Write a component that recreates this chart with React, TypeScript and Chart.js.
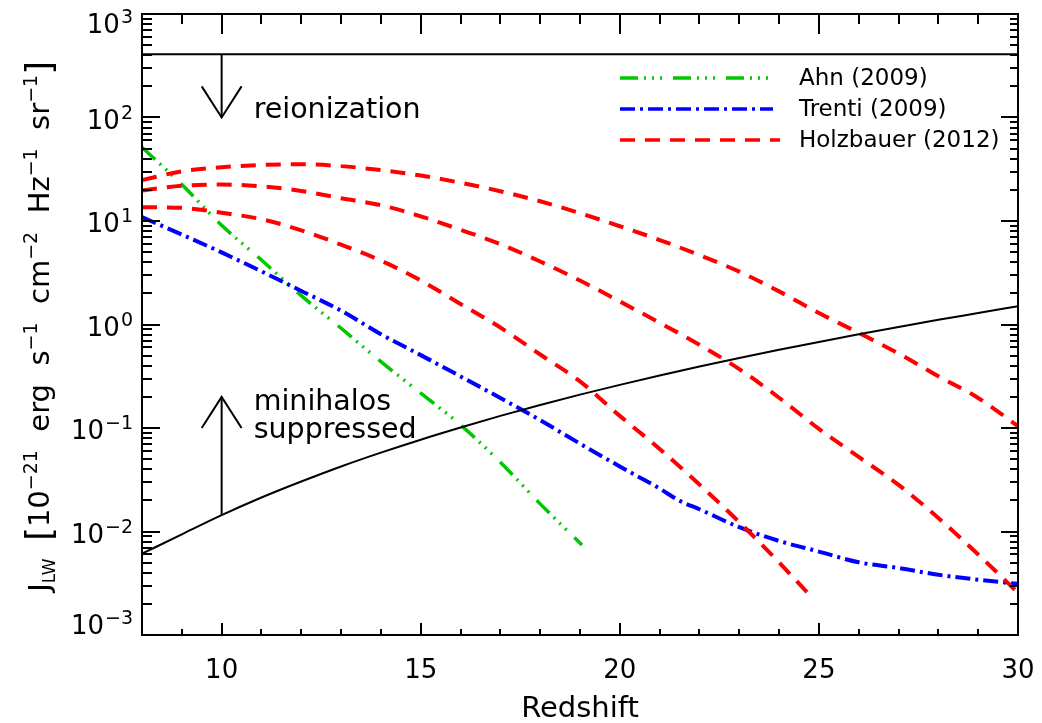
import { useEffect, useRef } from "react";
import { Chart, registerables } from "chart.js";

Chart.register(...registerables);

const FONT = '"DejaVu Sans", sans-serif';

// Redshift grid shared by most curves
const zGrid = [8, 9, 10, 11, 12, 13, 14, 15, 16, 17, 18, 19, 20, 21, 22, 23, 24, 25, 26, 27, 28, 29, 30];

// Ahn (2009)
const ahnZ = [8, 9, 10, 11, 12, 13, 14, 15, 16, 17, 18, 19.05];
const ahnJ = [51.5, 22.5, 9.1, 4.2, 1.9, 0.92, 0.437, 0.217, 0.107, 0.0467, 0.0185, 0.0074];

// Trenti (2009)
const trentiZ = [8, 9, 10, 11, 12, 13, 14, 15, 16, 17, 18, 19, 20, 21, 21.5, 22, 23, 24, 25, 26, 27, 28, 29, 30];
const trentiJ = [10.9, 7.4, 4.97, 3.26, 2.11, 1.36, 0.806, 0.506, 0.315, 0.195, 0.119, 0.0706, 0.0425, 0.026, 0.0198, 0.0164, 0.011, 0.0081, 0.0064, 0.00504, 0.00444, 0.00382, 0.00342, 0.00312];

// Holzbauer (2012), three models
const holzHighJ = [24.9, 30.2, 33.1, 34.8, 35.3, 33.9, 31.0, 27.5, 23.4, 19.4, 15.5, 11.9, 8.9, 6.55, 4.68, 3.24, 2.09, 1.29, 0.83, 0.525, 0.316, 0.195, 0.104];
const holzMidJ = [19.7, 21.9, 22.5, 21.6, 19.5, 16.6, 14.2, 11.1, 8.22, 5.98, 4.06, 2.66, 1.67, 1.04, 0.637, 0.371, 0.196, 0.098, 0.0525, 0.0282, 0.0135, 0.006, 0.00256];
const holzLowZ = [8, 9, 10, 11, 12, 13, 14, 15, 16, 17, 18, 19, 20, 21, 22, 23, 24, 24.7];
const holzLowJ = [13.6, 13.4, 12.0, 10.4, 8.13, 5.9, 4.14, 2.66, 1.58, 0.935, 0.513, 0.282, 0.131, 0.0627, 0.0284, 0.0123, 0.00502, 0.0026];

// Critical J_LW above which minihalos are suppressed
const jCrit = [0.0061, 0.0094, 0.0144, 0.0213, 0.0304, 0.0425, 0.0578, 0.0771, 0.101, 0.131, 0.167, 0.21, 0.261, 0.321, 0.392, 0.474, 0.57, 0.679, 0.805, 0.948, 1.11, 1.29, 1.5];

// Reionization limit and annotation arrows
const reionLevel = 408;
const arrowZ = 10;
const arrowHeadHalfWidth = 0.5; // in redshift units
const arrowHeadFactor = 2; // head length as a factor in J
const reionArrowTip = 100;
const minihaloArrowBase = 0.0144;
const minihaloArrowTip = 0.2;

// Axes
const xMin = 8;
const xMax = 30;
const xLabels = [10, 15, 20, 25, 30];
const yDecades = [-3, -2, -1, 0, 1, 2, 3];

const legendNames = ["Ahn (2009)", "Trenti (2009)", "Holzbauer (2012)"];

const GREEN = "#00c800";
const BLUE = "#0000ff";
const RED = "#ff0000";
const ahnDash = [18, 6, 2, 6, 2, 6, 2, 11];
const trentiDash = [15, 5, 3, 5];
const holzDash = [15, 10];

const pts = (xs: number[], ys: number[]) => xs.map((x, i) => ({ x, y: ys[i] }));

const curve = (data: { x: number; y: number }[], color: string, dash: number[], width: number) => ({
  data,
  borderColor: color,
  borderWidth: width,
  borderDash: dash,
  pointRadius: 0,
  fill: false,
  cubicInterpolationMode: "monotone" as const,
});

const seg = (data: { x: number; y: number }[]) => ({
  data,
  borderColor: "#000",
  borderWidth: 2,
  pointRadius: 0,
  fill: false,
  tension: 0,
});

const frame = {
  id: "idlFrame",
  afterDraw(chart: any) {
    const { ctx, chartArea: a, scales } = chart;
    const xs = scales.x;
    const ys = scales.y;
    ctx.save();
    ctx.strokeStyle = "#000";
    ctx.fillStyle = "#000";
    ctx.lineWidth = 2;
    ctx.lineCap = "butt";
    ctx.setLineDash([]);

    // box
    ctx.strokeRect(a.left, a.top, a.right - a.left, a.bottom - a.top);

    // x ticks, inward on bottom and top
    ctx.beginPath();
    for (let z = xMin + 1; z <= xMax; z++) {
      const px = Math.round(xs.getPixelForValue(z));
      const major = z % 5 === 0;
      ctx.moveTo(px, a.bottom);
      ctx.lineTo(px, a.bottom - (major ? 12 : 6));
      ctx.moveTo(px, a.top);
      ctx.lineTo(px, a.top + (major ? 20 : 10));
    }
    // y ticks, inward on left and right
    for (const k of yDecades) {
      for (let m = 1; m <= 9; m++) {
        const v = m * Math.pow(10, k);
        if (v > 1000.001) continue;
        const py = Math.round(ys.getPixelForValue(v));
        const major = m === 1;
        ctx.moveTo(a.left, py);
        ctx.lineTo(a.left + (major ? 18 : 10), py);
        ctx.moveTo(a.right, py);
        ctx.lineTo(a.right - (major ? 17 : 8), py);
      }
    }
    ctx.stroke();

    // x tick labels
    ctx.textAlign = "center";
    ctx.textBaseline = "alphabetic";
    ctx.font = `26px ${FONT}`;
    for (const z of xLabels) {
      ctx.fillText(String(z), xs.getPixelForValue(z), a.bottom + 43);
    }
    // x title
    ctx.font = `29px ${FONT}`;
    ctx.fillText("Redshift", (a.left + a.right) / 2, a.bottom + 82);

    // y tick labels: 10 with exponent, right aligned
    ctx.textAlign = "left";
    const rightEdge = a.left - 9;
    for (const k of yDecades) {
      const py = ys.getPixelForValue(Math.pow(10, k));
      const base = Math.min(Math.max(py + 11, a.top + 19), a.bottom - 1);
      const exp = k < 0 ? "\u2212" + String(-k) : String(k);
      ctx.font = `26px ${FONT}`;
      const wMain = ctx.measureText("10").width;
      ctx.font = `19px ${FONT}`;
      const wExp = ctx.measureText(exp).width;
      const x0 = rightEdge - wExp - wMain - 1;
      ctx.font = `26px ${FONT}`;
      ctx.fillText("10", x0, base);
      ctx.font = `19px ${FONT}`;
      ctx.fillText(exp, x0 + wMain + 1, base - 10);
    }

    // y title, rotated, with sub- and superscripts
    const parts: { t: string; size: number; dy: number }[] = [
      { t: "J", size: 29, dy: 0 },
      { t: "LW", size: 17, dy: 6 },
      { t: "  ", size: 28, dy: 0 },
      { t: "[", size: 35, dy: 2 },
      { t: "10", size: 29, dy: 0 },
      { t: "\u221221", size: 19, dy: -12 },
      { t: "  erg  s", size: 29, dy: 0 },
      { t: "\u22121", size: 19, dy: -12 },
      { t: "  cm", size: 29, dy: 0 },
      { t: "\u22122", size: 19, dy: -12 },
      { t: "  Hz", size: 29, dy: 0 },
      { t: "\u22121", size: 19, dy: -12 },
      { t: "  sr", size: 29, dy: 0 },
      { t: "\u22121", size: 19, dy: -12 },
      { t: "]", size: 35, dy: 2 },
    ];
    let total = 0;
    for (const p of parts) {
      ctx.font = `${p.size}px ${FONT}`;
      total += ctx.measureText(p.t).width;
    }
    ctx.save();
    ctx.translate(49, (a.top + a.bottom) / 2 + 2);
    ctx.rotate(-Math.PI / 2);
    let cx = -total / 2;
    for (const p of parts) {
      ctx.font = `${p.size}px ${FONT}`;
      ctx.fillText(p.t, cx, p.dy);
      cx += ctx.measureText(p.t).width;
    }
    ctx.restore();

    // annotations
    ctx.font = `28.5px ${FONT}`;
    const tx = xs.getPixelForValue(arrowZ) + 32;
    ctx.fillText("reionization", tx, ys.getPixelForValue(reionArrowTip));
    const mh = ys.getPixelForValue(minihaloArrowTip) + 13;
    ctx.fillText("minihalos", tx, mh);
    ctx.fillText("suppressed", tx, mh + 28);

    // legend
    const styles = [
      { c: GREEN, d: ahnDash, w: 3.5, len: 153 },
      { c: BLUE, d: trentiDash, w: 3.5, len: 153 },
      { c: RED, d: holzDash, w: 3.5, len: 160 },
    ];
    const lx = 620;
    const ly = [78, 109, 140];
    ctx.font = `23px ${FONT}`;
    ctx.textBaseline = "middle";
    legendNames.forEach((name, i) => {
      const s = styles[i];
      ctx.save();
      ctx.strokeStyle = s.c;
      ctx.lineWidth = s.w;
      ctx.setLineDash(s.d);
      ctx.beginPath();
      ctx.moveTo(lx, ly[i]);
      ctx.lineTo(lx + s.len, ly[i]);
      ctx.stroke();
      ctx.restore();
      ctx.fillStyle = "#000";
      ctx.fillText(name, 799, ly[i] + 1);
    });
    ctx.restore();
  },
};

export default function App() {
  const ref = useRef<HTMLCanvasElement>(null);
  useEffect(() => {
    const headJ = (tip: number, up: boolean) => (up ? tip / arrowHeadFactor : tip * arrowHeadFactor);
    const chart = new Chart(ref.current as HTMLCanvasElement, {
      type: "line",
      data: {
        datasets: [
          curve(pts(zGrid, jCrit), "#000", [], 2),
          seg([{ x: xMin, y: reionLevel }, { x: xMax, y: reionLevel }]),
          seg([{ x: arrowZ, y: reionLevel }, { x: arrowZ, y: reionArrowTip }]),
          seg([
            { x: arrowZ - arrowHeadHalfWidth, y: headJ(reionArrowTip, false) },
            { x: arrowZ, y: reionArrowTip },
            { x: arrowZ + arrowHeadHalfWidth, y: headJ(reionArrowTip, false) },
          ]),
          seg([{ x: arrowZ, y: minihaloArrowBase }, { x: arrowZ, y: minihaloArrowTip }]),
          seg([
            { x: arrowZ - arrowHeadHalfWidth, y: headJ(minihaloArrowTip, true) },
            { x: arrowZ, y: minihaloArrowTip },
            { x: arrowZ + arrowHeadHalfWidth, y: headJ(minihaloArrowTip, true) },
          ]),
          curve(pts(holzLowZ, holzLowJ), RED, holzDash, 4),
          curve(pts(zGrid, holzMidJ), RED, holzDash, 4),
          curve(pts(zGrid, holzHighJ), RED, holzDash, 4),
          curve(pts(trentiZ, trentiJ), BLUE, trentiDash, 4),
          curve(pts(ahnZ, ahnJ), GREEN, ahnDash, 3.5),
        ] as any,
      },
      options: {
        animation: false,
        responsive: false,
        devicePixelRatio: 1,
        parsing: false as any,
        layout: { padding: { left: 142, right: 24, top: 14, bottom: 88 } },
        plugins: { legend: { display: false }, tooltip: { enabled: false } },
        scales: {
          x: { type: "linear", min: xMin, max: xMax, display: false },
          y: { type: "logarithmic", min: 1e-3, max: 1e3, display: false },
        },
      },
      plugins: [frame],
    });
    return () => chart.destroy();
  }, []);
  return (
    <div style={{ position: "absolute", left: 0, top: 0, width: 1042, height: 723, background: "#fff" }}>
      <canvas ref={ref} width={1042} height={723} style={{ display: "block" }} />
    </div>
  );
}
